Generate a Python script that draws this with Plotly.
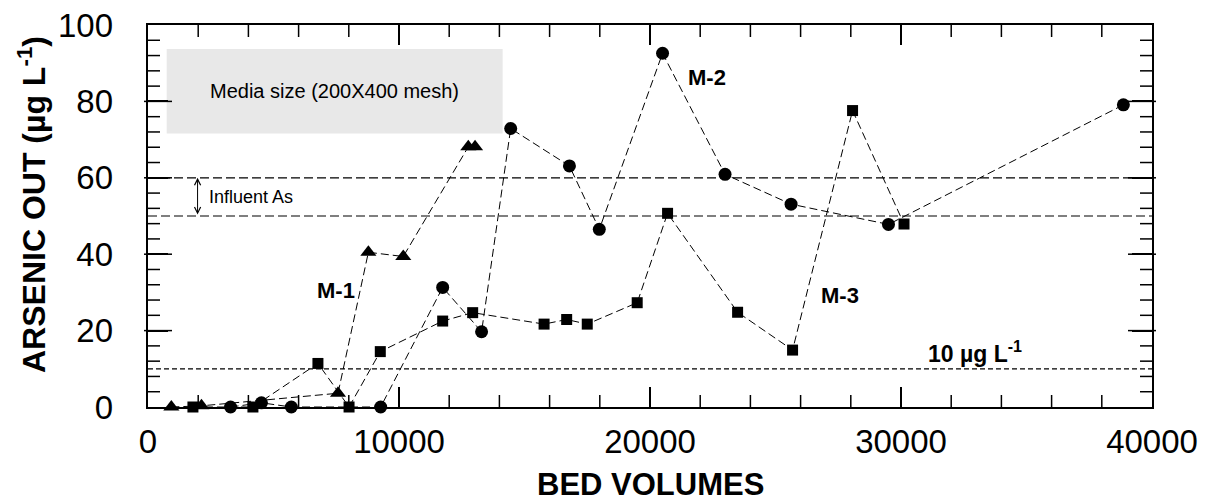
import plotly.graph_objects as go

# ---- data ----
m1_x = [930, 2130, 7570, 8780, 10170, 12760, 13030]
m1_y = [0, 0.3, 3.6, 40.5, 39.4, 68.1, 68.1]

m2_x = [3290, 4520, 5710, 9270, 11740, 13290, 14450, 16790, 17980, 20500,
        22990, 25620, 29500, 38860]
m2_y = [0, 1.1, 0, 0, 31.3, 19.7, 72.9, 63.1, 46.5, 92.6,
        60.9, 53.1, 47.8, 79.1]

m3_x = [1790, 4180, 6770, 8010, 9255, 11740, 12935, 15780, 16680, 17500,
        19490, 20700, 23490, 25680, 28070, 30120]
m3_y = [0, 0, 11.4, 0, 14.5, 22.5, 24.7, 21.7, 22.9, 21.7,
        27.3, 50.7, 24.8, 14.9, 77.6, 47.9]

influent_levels = [60, 50]
mcl_level = 10

x_range = [0, 40000]
y_range = [0, 100]
x_major, x_minor = 10000, 2000
y_major, y_minor = 20, 4

FONT = "Liberation Sans"
line_dash = "8px,4px"

# plot-area size in pixels (only used to turn tick lengths into axis units)
PLOT_W, PLOT_H = 1004, 382
MAJOR_LEN, MINOR_LEN = 20, 10

fig = go.Figure()

x_per_px = (x_range[1] - x_range[0]) / PLOT_W
y_per_px = (y_range[1] - y_range[0]) / PLOT_H

# ---- inside ticks drawn as line markers (centre = half a tick inside) ----
def tick_markers(xs, ys, symbol, size):
    fig.add_trace(go.Scatter(
        x=xs, y=ys, mode="markers", cliponaxis=False, hoverinfo="skip",
        showlegend=False,
        marker=dict(symbol=symbol, size=size, color="black",
                    line=dict(color="black", width=1.5))))

# x minor ticks, bottom and top
xm = [v for v in range(x_range[0] + x_minor, x_range[1], x_minor) if v % x_major]
h = MINOR_LEN / 2 * y_per_px
tick_markers(xm + xm, [y_range[0] + h] * len(xm) + [y_range[1] - h] * len(xm),
             "line-ns-open", MINOR_LEN)
# y minor ticks, left and right
ym = [v for v in range(y_range[0] + y_minor, y_range[1], y_minor) if v % y_major]
w = MINOR_LEN / 2 * x_per_px
tick_markers([x_range[0] + w] * len(ym) + [x_range[1] - w] * len(ym), ym + ym,
             "line-ew-open", MINOR_LEN)
# y major ticks, left and right
yM = list(range(y_range[0] + y_major, y_range[1], y_major))
W = MAJOR_LEN / 2 * x_per_px
tick_markers([x_range[0] + W] * len(yM) + [x_range[1] - W] * len(yM), yM + yM,
             "line-ew-open", MAJOR_LEN)

def add_series(x, y, symbol, size):
    fig.add_trace(go.Scatter(
        x=x, y=y, mode="lines+markers",
        line=dict(color="black", width=1, dash=line_dash),
        marker=dict(symbol=symbol, size=size, color="black"),
        cliponaxis=False, showlegend=False))

add_series(m1_x, m1_y, "triangle-up", 14)
add_series(m3_x, m3_y, "square", 11)
add_series(m2_x, m2_y, "circle", 13)

fig.add_shape(type="rect", x0=745, x1=14130, y0=71.6, y1=93.7,
              xref="x", yref="y", fillcolor="#e8e8e8", line=dict(width=0),
              layer="below")

for lv in influent_levels:
    fig.add_shape(type="line", x0=0, x1=40000, y0=lv, y1=lv, xref="x", yref="y",
                  line=dict(color="black", width=1.2, dash="9px,4px"), layer="below")
fig.add_shape(type="line", x0=0, x1=40000, y0=mcl_level, y1=mcl_level,
              xref="x", yref="y",
              line=dict(color="black", width=1.2, dash="5px,3px"), layer="below")

fig.add_annotation(x=1975, y=60, ax=1975, ay=50, xref="x", yref="y",
                   axref="x", ayref="y", text="", showarrow=True,
                   arrowhead=5, startarrowhead=5, arrowside="end+start",
                   arrowsize=1.2, arrowwidth=1, arrowcolor="black")

fig.add_annotation(x=7440, y=82.6, xref="x", yref="y", showarrow=False,
                   text="Media size (200X400 mesh)",
                   font=dict(family=FONT, size=20, color="black"))
fig.add_annotation(x=2335, y=55, xref="x", yref="y", showarrow=False,
                   xanchor="left", text="Influent As",
                   font=dict(family=FONT, size=18, color="black"))

lab_font = dict(family=FONT, size=22, color="black")
fig.add_annotation(x=7500, y=30.6, xref="x", yref="y", showarrow=False,
                   text="<b>M-1</b>", font=lab_font)
fig.add_annotation(x=22270, y=86.3, xref="x", yref="y", showarrow=False,
                   text="<b>M-2</b>", font=lab_font)
fig.add_annotation(x=27570, y=29.1, xref="x", yref="y", showarrow=False,
                   text="<b>M-3</b>", font=lab_font)
fig.add_annotation(x=32950, y=14.5, xref="x", yref="y", showarrow=False,
                   text="<b>10 µg L<sup>-1</sup></b>",
                   font=dict(family=FONT, size=23, color="black"))

fig.add_annotation(x=(32 - 148) / 1004, y=(407 - 205) / 382,
                   xref="paper", yref="paper", xanchor="center", yanchor="middle",
                   showarrow=False, textangle=-90,
                   text="<b>ARSENIC OUT (µg L<sup>-1</sup>)</b>",
                   font=dict(family=FONT, size=32, color="black"))
fig.add_annotation(x=0.5, y=(407 - 484) / 382, xref="paper", yref="paper",
                   xanchor="center", yanchor="middle",
                   showarrow=False, text="<b>BED VOLUMES</b>",
                   font=dict(family=FONT, size=31, color="black"))

fig.update_xaxes(range=x_range, dtick=x_major, tick0=0, tickmode="linear",
                 tickformat="d", ticklabelstandoff=4,
                 showline=True, linecolor="black", linewidth=2,
                 mirror="allticks", ticks="inside", ticklen=20, tickwidth=1.5,
                 tickcolor="black", showgrid=False, zeroline=False,
                 tickfont=dict(family=FONT, size=33, color="black"))
fig.update_yaxes(range=y_range, dtick=y_major, tick0=0, tickmode="linear",
                 ticksuffix="\u00a0\u00a0", ticklabelstandoff=8,
                 showline=True, linecolor="black", linewidth=2,
                 mirror="allticks", ticks="inside", ticklen=20, tickwidth=1.5,
                 tickcolor="black", showgrid=False, zeroline=False,
                 tickfont=dict(family=FONT, size=33, color="black"))

fig.update_layout(width=1206, height=501,
                  margin=dict(l=148, r=54, t=25, b=94, autoexpand=False),
                  plot_bgcolor="white", paper_bgcolor="white",
                  font=dict(family=FONT, color="black"))

fig.write_html("out.html")
